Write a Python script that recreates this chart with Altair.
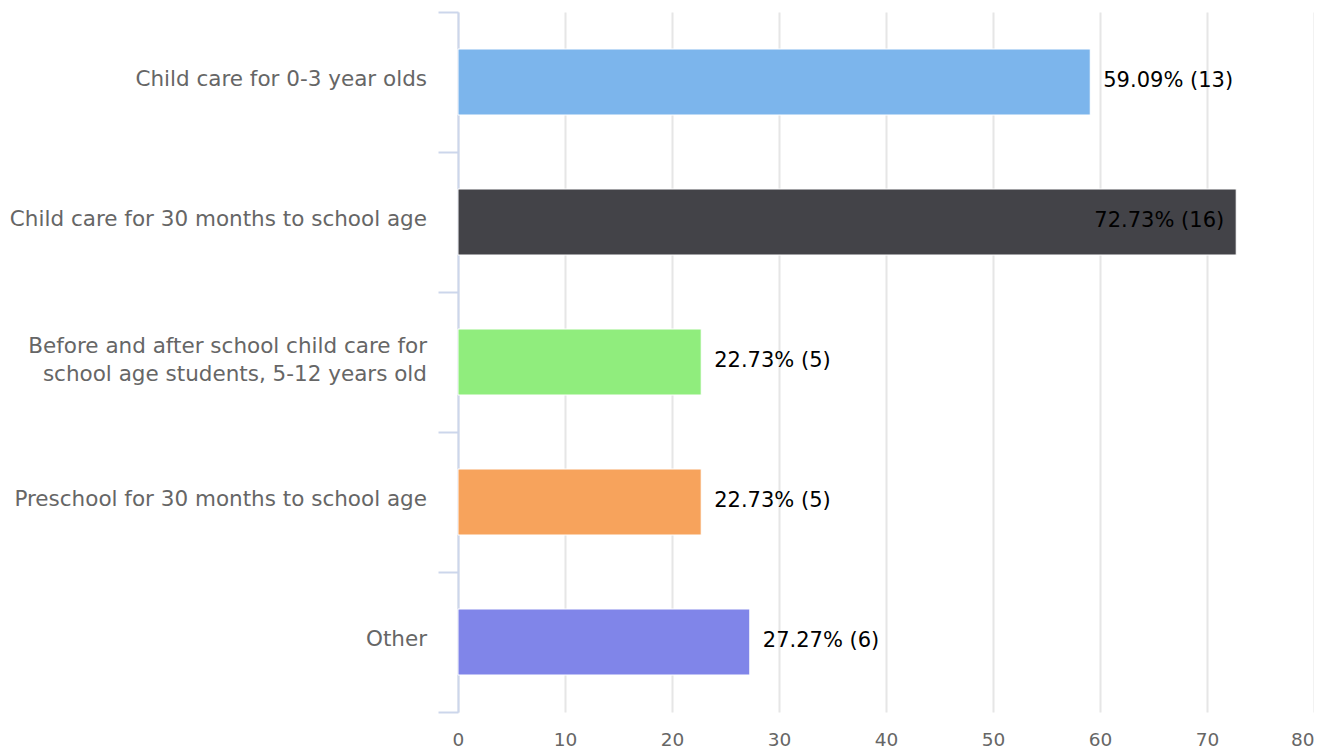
import altair as alt
import pandas as pd

categories = [
    "Child care for 0-3 year olds",
    "Child care for 30 months to school age",
    "Before and after school child care for|school age students, 5-12 years old",
    "Preschool for 30 months to school age",
    "Other",
]
percents = [59.09, 72.73, 22.73, 22.73, 27.27]
counts = [13, 16, 5, 5, 6]
colors = ["#7cb5ec", "#434348", "#90ed7d", "#f7a35c", "#8085e9"]
x_ticks = [0, 10, 20, 30, 40, 50, 60, 70, 80]

df = pd.DataFrame({"cat": categories, "pct": percents, "n": counts, "color": colors})
df["label"] = [f"{p:.2f}% ({n})" for p, n in zip(percents, counts)]
df["multi"] = df["cat"].str.contains("|", regex=False)

FONT = "DejaVu Sans"

y = alt.Y(
    "cat:N",
    sort=categories,
    scale=alt.Scale(paddingInner=0, paddingOuter=0),
    axis=alt.Axis(
        title=None,
        labels=False,
        tickBand="extent",
        tickSize=20,
        tickColor="#ccd6eb",
        domainColor="#ccd6eb",
        domainWidth=2,
        tickWidth=2,
        grid=False,
    ),
)
x = alt.X(
    "pct:Q",
    scale=alt.Scale(domain=[0, 80], nice=False),
    axis=alt.Axis(
        title=None,
        values=x_ticks,
        labelFont=FONT,
        labelFontSize=18.5,
        labelColor="#666666",
        labelPadding=18,
        labelFlush=False,
        labelAlign={"condition": {"test": "datum.value >= 80", "value": "right"}, "value": "center"},
        ticks=False,
        domain=False,
        grid=True,
        gridColor="#e6e6e6",
        gridWidth=2,
    ),
)

ysimple = alt.Y("cat:N", sort=categories)

bars = alt.Chart(df).mark_bar(stroke="white", strokeWidth=1, height=66).encode(
    x=x, y=y, color=alt.Color("color:N", scale=None)
)
cat_single = alt.Chart(df).transform_filter("!datum.multi").mark_text(
    align="right", baseline="middle", dx=-31, dy=-2, font=FONT, fontSize=21.5,
    color="#666666"
).encode(x=alt.value(0), y=ysimple, text="cat:N")
cat_multi = alt.Chart(df).transform_filter("datum.multi").mark_text(
    align="right", baseline="middle", dx=-31, dy=-15, font=FONT, fontSize=21.5,
    color="#666666", lineBreak="|", lineHeight=28
).encode(x=alt.value(0), y=ysimple, text="cat:N")
out_labels = alt.Chart(df).transform_filter("datum.pct < 65").mark_text(
    align="left", baseline="middle", dx=13, dy=-1, font=FONT, fontSize=21, color="black"
).encode(x="pct:Q", y=ysimple, text="label:N")
in_labels = alt.Chart(df).transform_filter("datum.pct >= 65").mark_text(
    align="right", baseline="middle", dx=-12, dy=-1, font=FONT, fontSize=21, color="black"
).encode(x="pct:Q", y=ysimple, text="label:N")

chart = (
    alt.layer(bars, cat_single, cat_multi, out_labels, in_labels)
    .properties(
        width=856,
        height=700,
        autosize=alt.AutoSizeParams(type="none"),
        padding={"left": 450, "top": 4, "right": 0, "bottom": 42},
    )
    .configure_view(stroke=None)
)

chart.save("out.html", embed_options={"renderer": "svg", "actions": False})
